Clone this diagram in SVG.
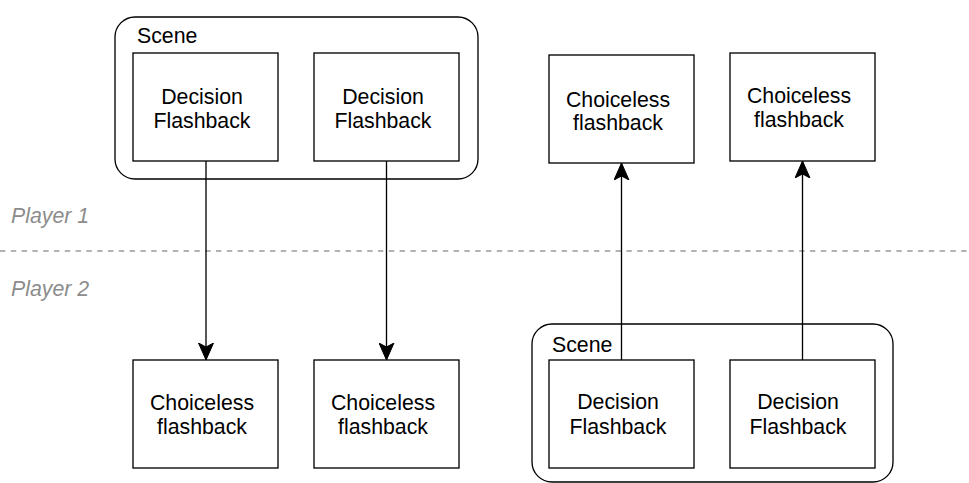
<svg xmlns="http://www.w3.org/2000/svg" width="969" height="483" viewBox="0 0 969 483">
  <style>
    .scene { fill: #ffffff; stroke: #000000; stroke-width: 1.33; }
    .box { fill: #ffffff; stroke: #000000; stroke-width: 1.33; }
    .lbl { font-family: "Liberation Sans", Arial, Helvetica, sans-serif; font-size: 21.3px; fill: #000000; }
    .mid { text-anchor: middle; }
    .lane { font-family: "Liberation Sans", Arial, Helvetica, sans-serif; font-size: 21.3px; font-style: italic; fill: #8c8c8c; }
    .divider { stroke: #9a9a9a; stroke-width: 1.5; stroke-dasharray: 5.4 5.4; fill: none; }
    .edge { stroke: #000000; stroke-width: 1.33; fill: none; }
  </style>
  <defs>
    <marker id="arrow" viewBox="0 0 18 16" refX="17" refY="8" markerUnits="userSpaceOnUse" markerWidth="18" markerHeight="16" orient="auto">
      <path d="M0,0.5 L17,8 L0,15.5 L4,8 Z" fill="#000000" stroke="#000000" stroke-width="1"/>
    </marker>
  </defs>

  <rect width="969" height="483" fill="#ffffff"/>

  <!-- lane divider -->
  <g id="lanes">
    <line class="divider" x1="0" y1="251" x2="969" y2="251"/>
    <text class="lane" x="11" y="223">Player 1</text>
    <text class="lane" x="11" y="296">Player 2</text>
  </g>

  <!-- player 1 scene -->
  <g id="scene-p1">
    <rect class="scene" x="115" y="17" width="363" height="162" rx="20" ry="20"/>
    <text class="lbl" x="137" y="43">Scene</text>
  </g>
  <g id="decision-p1-a">
    <rect class="box" x="133" y="53" width="145" height="108"/>
    <text class="lbl mid" x="202" y="104">Decision</text>
    <text class="lbl mid" x="202" y="128">Flashback</text>
  </g>
  <g id="decision-p1-b">
    <rect class="box" x="314" y="53" width="145" height="108"/>
    <text class="lbl mid" x="383" y="104">Decision</text>
    <text class="lbl mid" x="383" y="128">Flashback</text>
  </g>

  <!-- player 2 choiceless flashbacks -->
  <g id="choiceless-p2-a">
    <rect class="box" x="133" y="360" width="145" height="108"/>
    <text class="lbl mid" x="202" y="410">Choiceless</text>
    <text class="lbl mid" x="202" y="434">flashback</text>
  </g>
  <g id="choiceless-p2-b">
    <rect class="box" x="314" y="360" width="145" height="108"/>
    <text class="lbl mid" x="383" y="410">Choiceless</text>
    <text class="lbl mid" x="383" y="434">flashback</text>
  </g>

  <!-- player 1 choiceless flashbacks -->
  <g id="choiceless-p1-a">
    <rect class="box" x="549" y="55" width="145" height="108"/>
    <text class="lbl mid" x="618" y="107">Choiceless</text>
    <text class="lbl mid" x="618" y="130">flashback</text>
  </g>
  <g id="choiceless-p1-b">
    <rect class="box" x="730" y="53" width="145" height="108"/>
    <text class="lbl mid" x="799" y="103">Choiceless</text>
    <text class="lbl mid" x="799" y="127">flashback</text>
  </g>

  <!-- player 2 scene -->
  <g id="scene-p2">
    <rect class="scene" x="532" y="324" width="361" height="158" rx="20" ry="20"/>
    <text class="lbl" x="552" y="352">Scene</text>
  </g>
  <g id="decision-p2-a">
    <rect class="box" x="549" y="360" width="145" height="108"/>
    <text class="lbl mid" x="618" y="409">Decision</text>
    <text class="lbl mid" x="618" y="434">Flashback</text>
  </g>
  <g id="decision-p2-b">
    <rect class="box" x="730" y="360" width="145" height="108"/>
    <text class="lbl mid" x="798" y="409">Decision</text>
    <text class="lbl mid" x="798" y="434">Flashback</text>
  </g>

  <!-- connectors -->
  <g id="connectors">
    <line class="edge" x1="206" y1="161" x2="206" y2="360" marker-end="url(#arrow)"/>
    <line class="edge" x1="386.5" y1="161" x2="386.5" y2="360" marker-end="url(#arrow)"/>
    <line class="edge" x1="621.5" y1="360" x2="621.5" y2="163" marker-end="url(#arrow)"/>
    <line class="edge" x1="802.5" y1="360" x2="802.5" y2="161" marker-end="url(#arrow)"/>
  </g>
</svg>
